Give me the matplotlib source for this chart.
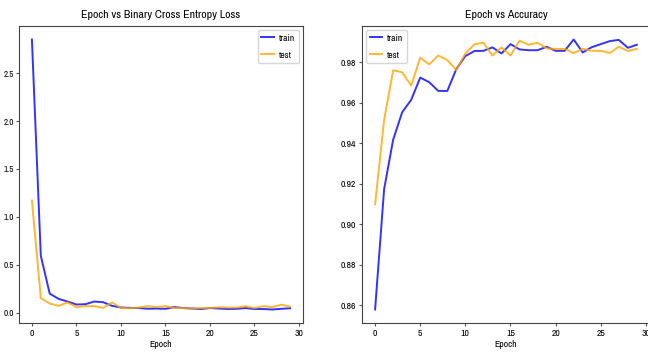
import matplotlib
matplotlib.use("Agg")
import matplotlib.pyplot as plt

plt.rcParams['font.family'] = ["Archivo Narrow", "DejaVu Sans"]

epochs = list(range(30))
train_loss = [2.85, 0.594, 0.20, 0.146, 0.118, 0.087, 0.09, 0.118, 0.111, 0.073,
              0.056, 0.052, 0.05, 0.043, 0.045, 0.042, 0.06, 0.05, 0.045, 0.04,
              0.05, 0.045, 0.04, 0.042, 0.05, 0.04, 0.04, 0.035, 0.042, 0.048]
test_loss = [1.17, 0.153, 0.097, 0.073, 0.108, 0.059, 0.07, 0.07, 0.052, 0.108,
             0.052, 0.048, 0.055, 0.07, 0.06, 0.07, 0.05, 0.05, 0.045, 0.05,
             0.05, 0.058, 0.055, 0.055, 0.07, 0.05, 0.07, 0.06, 0.085, 0.065]
train_acc = [0.858, 0.9174, 0.9418, 0.9554, 0.9615, 0.9725, 0.9702, 0.9659, 0.9659, 0.9767,
             0.9831, 0.9856, 0.9857, 0.9874, 0.9844, 0.989, 0.9864, 0.986, 0.986, 0.9877,
             0.9857, 0.9857, 0.9913, 0.9849, 0.9875, 0.989, 0.9905, 0.9911, 0.9872, 0.9887]
test_acc = [0.910, 0.9516, 0.9761, 0.9751, 0.9685, 0.9823, 0.979, 0.9834, 0.9811, 0.9762,
            0.9844, 0.9889, 0.9897, 0.9834, 0.9874, 0.9834, 0.9907, 0.9887, 0.9897, 0.9869,
            0.9866, 0.9866, 0.9846, 0.9867, 0.9857, 0.9857, 0.9846, 0.9877, 0.9856, 0.9867]

fig = plt.figure(figsize=(6.48, 3.53), dpi=100)
ax1 = fig.add_axes([19 / 648, 0.085, 284 / 648, 0.8414])
ax2 = fig.add_axes([362 / 648, 0.085, 0.4444, 0.8414])

fs = 8
for ax, tr, te, title, loc in [(ax1, train_loss, test_loss, "Epoch vs Binary Cross Entropy Loss", "upper right"),
                                (ax2, train_acc, test_acc, "Epoch vs Accuracy", "upper left")]:
    ax.plot(epochs, tr, color="blue", lw=1.4, alpha=0.8, label="train")
    ax.plot(epochs, te, color="orange", lw=1.4, alpha=0.8, label="test")
    ax.set_title(title, fontsize=fs + 0.5, pad=6)
    ax.set_xlabel("Epoch", fontsize=fs - 1, labelpad=2)
    ax.tick_params(labelsize=fs - 1, length=2.5, pad=1.5, color="#555555")
    ax.set_xticks([0, 5, 10, 15, 20, 25, 30])
    ax.legend(loc=loc, fontsize=7, handlelength=1.3, handletextpad=0.5, borderpad=0.4,
              labelspacing=0.8, borderaxespad=0.4)
    for s in ax.spines.values():
        s.set_color("#444444")

ax1.tick_params(axis="y", labelsize=6.5, pad=1)
ax2.set_yticks([0.86, 0.88, 0.90, 0.92, 0.94, 0.96, 0.98])
ax2.set_yticklabels(["0.86", "0.88", "0.90", "0.92", "0.94", "0.96", "0.98"])

fig.savefig("out.png", dpi=100)
